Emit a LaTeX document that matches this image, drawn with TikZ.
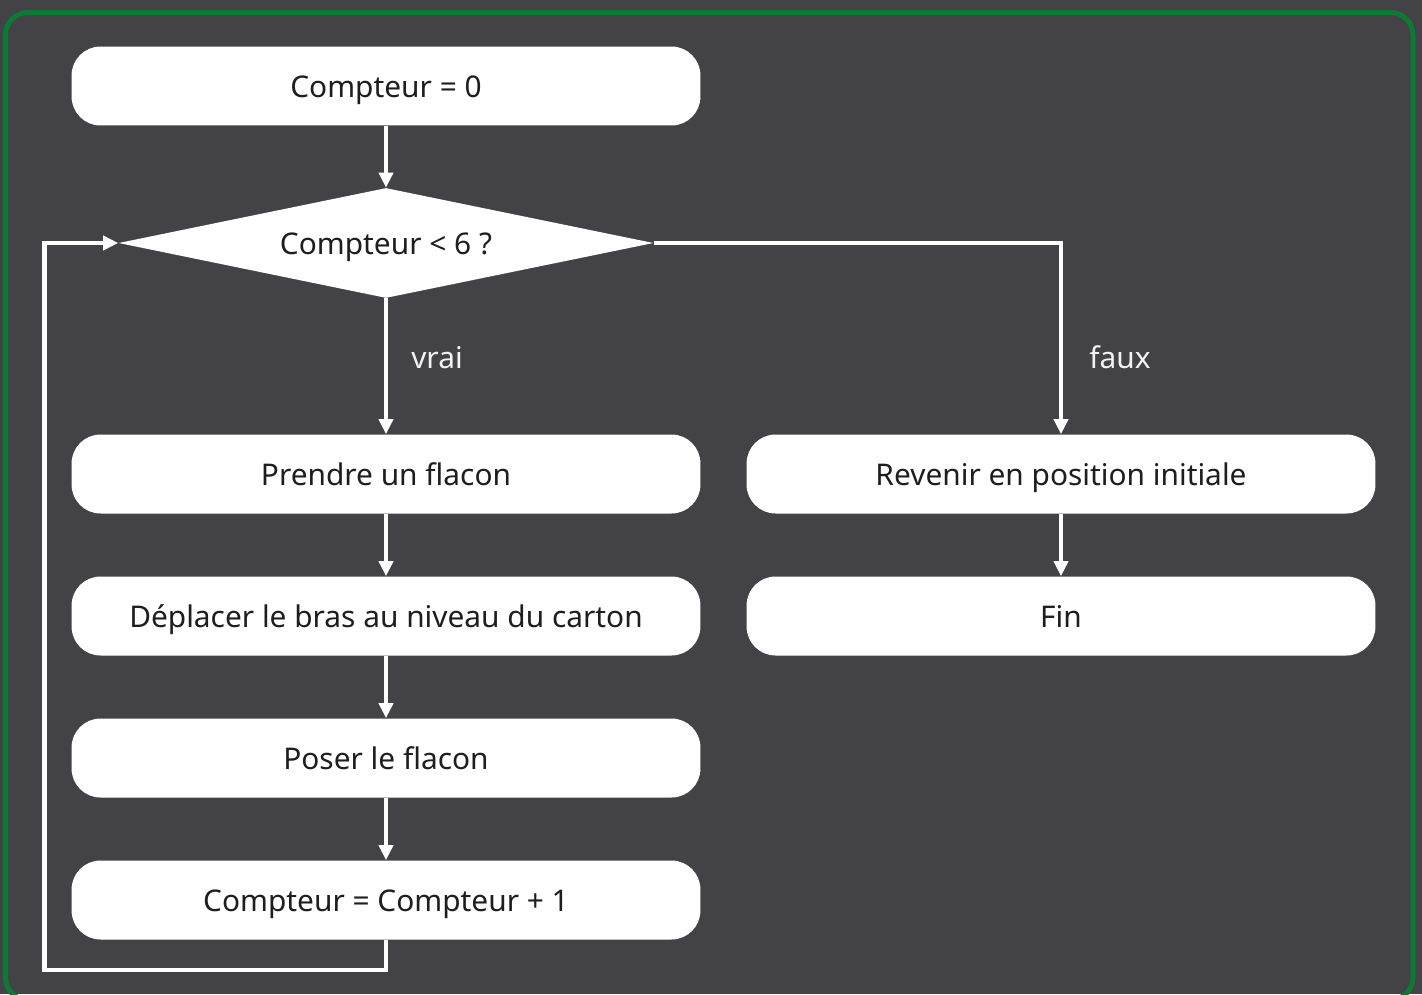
\documentclass[tikz,border=0pt]{standalone}
\usepackage{fontspec}
\setmainfont{Noto Sans}
\usetikzlibrary{shapes.geometric,arrows.meta}

\definecolor{bgdark}{HTML}{434247}
\definecolor{framegreen}{HTML}{0B7A33}
\definecolor{inkdark}{HTML}{1E1E1E}
\definecolor{inklight}{HTML}{F2F2F2}

\begin{document}
\begin{tikzpicture}[
    x=0.02cm, y=-0.02cm,
    every node/.style={font=\fontsize{17}{20}\selectfont},
    stepbox/.style={fill=white, rounded corners=0.58cm, minimum width=12.58cm,
                    minimum height=1.58cm, inner sep=0pt,
                    text height=15pt, text depth=1.5pt, text=inkdark},
    testbox/.style={diamond, fill=white, aspect=4.85, minimum width=10.7cm,
                    minimum height=2.2cm, inner sep=0pt, text=inkdark,
                    text height=15pt, text depth=1.5pt},
    arrow/.style={-{Triangle[length=0.3cm, width=0.28cm]}, draw=white,
                  line width=0.094cm},
    lbl/.style={text=inklight, text height=15pt, text depth=1.5pt}
]
\useasboundingbox (0,0) rectangle (1422,994);
\fill[bgdark] (0,0) rectangle (1422,994);
\draw[framegreen, line width=0.1cm, rounded corners=0.45cm] (5.5,12.5) rectangle (1413,1000);

% main column
\node[stepbox] (init) at (386,86) {Compteur = 0};
\node[testbox] (test) at (386,243) {Compteur < 6 ?};
\node[stepbox] (take) at (386,474) {Prendre un flacon};
\node[stepbox] (move) at (386,616) {Déplacer le bras au niveau du carton};
\node[stepbox] (put)  at (386,758) {Poser le flacon};
\node[stepbox] (incr) at (386,900) {Compteur = Compteur + 1};

% exit branch
\node[stepbox] (back) at (1061,474) {Revenir en position initiale};
\node[stepbox] (fin)  at (1061,616) {Fin};

\draw[arrow] (init) -- (test);
\draw[arrow] (test) -- (take);
\draw[arrow] (take) -- (move);
\draw[arrow] (move) -- (put);
\draw[arrow] (put) -- (incr);
\draw[arrow] (back) -- (fin);
\draw[arrow] (test.east) -| (back.north);

% back to the test
\coordinate (loopcorner) at (44.5,970);
\draw[arrow] (incr.south) |- (loopcorner) |- (test.west);

\node[lbl] (yes) at (437,357) {vrai};
\node[lbl] (no)  at (1120,357) {faux};
\end{tikzpicture}
\end{document}
